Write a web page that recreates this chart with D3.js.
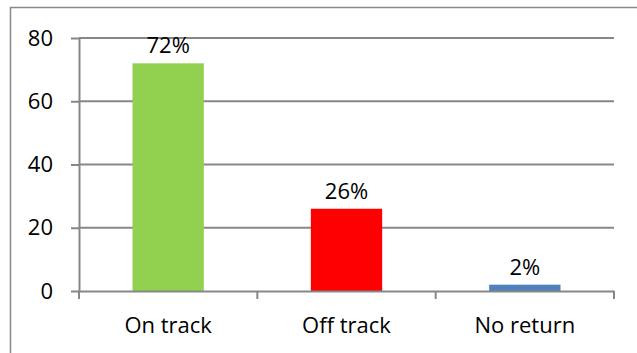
<!DOCTYPE html>
<html><head><meta charset="utf-8">
<script src="https://cdn.jsdelivr.net/npm/d3@7"></script>
<style>html,body{margin:0;padding:0;background:#fff;overflow:hidden}</style>
</head><body>
<script>
const categories = ["On track", "Off track", "No return"];
const values = [72, 26, 2];
const labels = ["72%", "26%", "2%"];
const colors = ["#92D050", "#FF0000", "#4F81BD"];
const yTicks = [0, 20, 40, 60, 80];

(function () {
const W = 637, H = 353;
const font = "'Open Sans', sans-serif";
const fs = 22;
const svg = d3.select("body").append("svg").attr("width", W).attr("height", H);

// outer chart frame (extends beyond the picture at right and bottom)
svg.append("rect").attr("x", 10.5).attr("y", 7.5).attr("width", 700).attr("height", 400)
  .attr("fill", "none").attr("stroke", "#898989").attr("stroke-width", 1.5);

const pLeft = 79, pRight = 614, pTop = 38, pBottom = 291;
const x = d3.scaleBand().domain(categories).range([pLeft, pRight]).paddingInner(0.6).paddingOuter(0.3);
const y = d3.scaleLinear().domain([0, 80]).range([pBottom, pTop]);
const grid = "#878787";

// gridlines
svg.append("g").selectAll("line").data(yTicks.filter(d => d > 0)).join("line")
  .attr("x1", pLeft).attr("x2", pRight).attr("y1", d => y(d)).attr("y2", d => y(d))
  .attr("stroke", grid).attr("stroke-width", 2);

// y axis
const yAxis = svg.append("g").attr("transform", `translate(${pLeft},0)`)
  .call(d3.axisLeft(y).tickValues(yTicks).tickSize(8).tickPadding(18).tickSizeOuter(0));
yAxis.select(".domain").attr("stroke", grid).attr("stroke-width", 2);
yAxis.selectAll(".tick line").attr("stroke", grid).attr("stroke-width", 2);
yAxis.selectAll("text").attr("font-family", font).attr("font-size", fs).attr("fill", "#000");

// bars
svg.append("g").selectAll("rect").data(categories).join("rect")
  .attr("x", d => x(d)).attr("width", x.bandwidth())
  .attr("y", (d, i) => y(values[i])).attr("height", (d, i) => y(0) - y(values[i]))
  .attr("fill", (d, i) => colors[i]);

// x axis
const xAxis = svg.append("g").attr("transform", `translate(0,${pBottom})`)
  .call(d3.axisBottom(x).tickSize(0).tickPadding(26).tickSizeOuter(0));
xAxis.select(".domain").attr("stroke", grid).attr("stroke-width", 2);
xAxis.selectAll("text").attr("font-family", font).attr("font-size", fs).attr("fill", "#000");
const step = x.step();
svg.append("g").selectAll("line").data(d3.range(categories.length + 1)).join("line")
  .attr("x1", i => pLeft + i * step).attr("x2", i => pLeft + i * step)
  .attr("y1", pBottom).attr("y2", pBottom + 8)
  .attr("stroke", grid).attr("stroke-width", 2);

// data labels
svg.append("g").selectAll("text").data(categories).join("text")
  .attr("x", d => x(d) + x.bandwidth() / 2)
  .attr("y", (d, i) => y(values[i]) - 10)
  .attr("text-anchor", "middle")
  .attr("font-family", font).attr("font-size", fs).attr("fill", "#000")
  .text((d, i) => labels[i]);
})();
</script>
</body></html>
